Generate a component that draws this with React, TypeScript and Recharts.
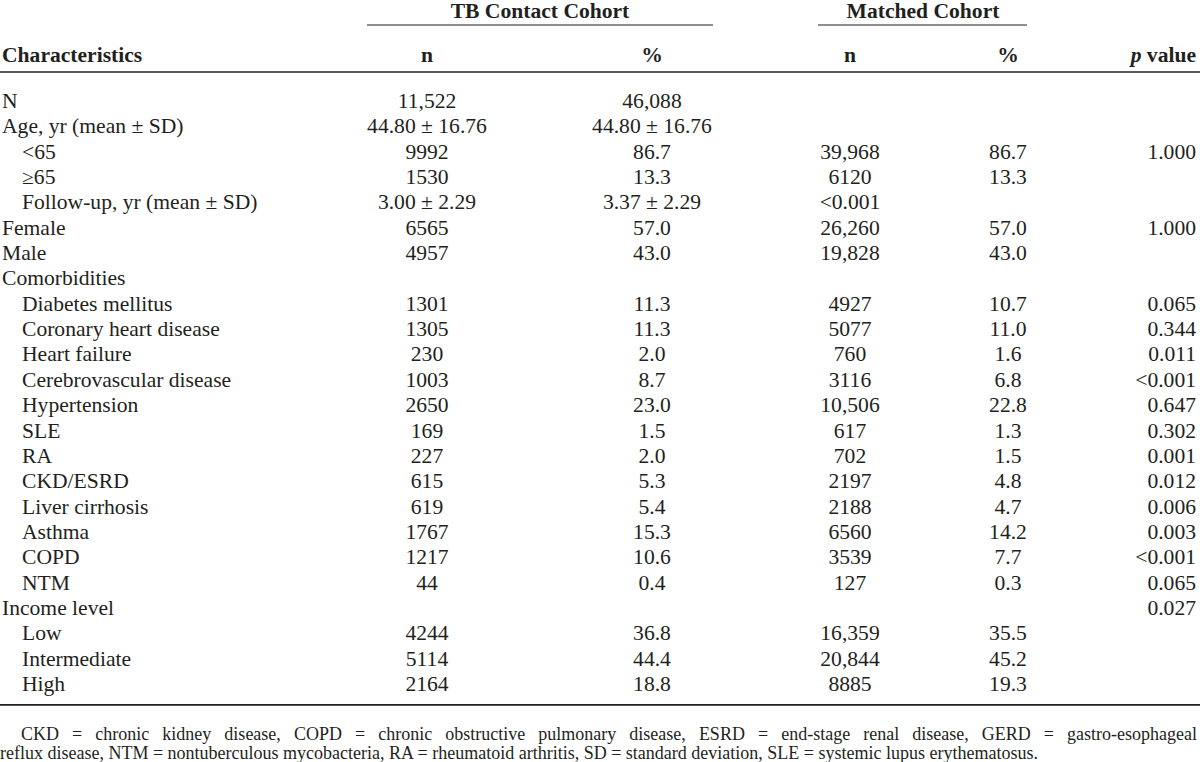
import { ScatterChart, Scatter, XAxis, YAxis, ReferenceLine } from 'recharts';

// table content, one entry per body row
const labels = [
  'N',
  'Age, yr (mean ± SD)',
  '<65',
  '≥65',
  'Follow-up, yr (mean ± SD)',
  'Female',
  'Male',
  'Comorbidities',
  'Diabetes mellitus',
  'Coronary heart disease',
  'Heart failure',
  'Cerebrovascular disease',
  'Hypertension',
  'SLE',
  'RA',
  'CKD/ESRD',
  'Liver cirrhosis',
  'Asthma',
  'COPD',
  'NTM',
  'Income level',
  'Low',
  'Intermediate',
  'High',
];

const indented = [
  false, false, true, true, true, false, false, false,
  true, true, true, true, true, true, true, true, true, true, true, true,
  false, true, true, true,
];

const tbN = [
  '11,522', '44.80 ± 16.76', '9992', '1530', '3.00 ± 2.29', '6565', '4957', '',
  '1301', '1305', '230', '1003', '2650', '169', '227', '615', '619', '1767', '1217', '44',
  '', '4244', '5114', '2164',
];

const tbPct = [
  '46,088', '44.80 ± 16.76', '86.7', '13.3', '3.37 ± 2.29', '57.0', '43.0', '',
  '11.3', '11.3', '2.0', '8.7', '23.0', '1.5', '2.0', '5.3', '5.4', '15.3', '10.6', '0.4',
  '', '36.8', '44.4', '18.8',
];

const matchedN = [
  '', '', '39,968', '6120', '<0.001', '26,260', '19,828', '',
  '4927', '5077', '760', '3116', '10,506', '617', '702', '2197', '2188', '6560', '3539', '127',
  '', '16,359', '20,844', '8885',
];

const matchedPct = [
  '', '', '86.7', '13.3', '', '57.0', '43.0', '',
  '10.7', '11.0', '1.6', '6.8', '22.8', '1.3', '1.5', '4.8', '4.7', '14.2', '7.7', '0.3',
  '', '35.5', '45.2', '19.3',
];

const pValues = [
  '', '', '1.000', '', '', '1.000', '', '',
  '0.065', '0.344', '0.011', '<0.001', '0.647', '0.302', '0.001', '0.012', '0.006', '0.003', '<0.001', '0.065',
  '0.027', '', '', '',
];

const groupHeaders = ['TB Contact Cohort', 'Matched Cohort'];
const columnHeaders = ['Characteristics', 'n', '%', 'n', '%', 'p value'];

const footnotes = [
  'CKD = chronic kidney disease, COPD = chronic obstructive pulmonary disease, ESRD = end-stage renal disease, GERD = gastro-esophageal',
  'reflux disease, NTM = nontuberculous mycobacteria, RA = rheumatoid arthritis, SD = standard deviation, SLE = systemic lupus erythematosus.',
];

// layout
const W = 1200;
const H = 762;
const FONT = "'Liberation Serif', 'Times New Roman', serif";
const FS = 20;
const FOOT_FS = 18;
const SX = 1.08;
const LABEL_X = 2;
const INDENT_X = 22;
const COL_X = [427, 652, 850, 1008];
const P_RIGHT = 1196;
const GROUP_X = [540, 923];
const GROUP_SPAN = [
  [367, 713],
  [818, 1027],
];
// y axis in row units: row 0 baseline at 108px, 25.35px per row
const ROW_MIN = -4.261;
const ROW_MAX = 25.801;
const GROUP_ROW = -3.57;
const GROUP_RULE_ROW = -3.274;
const HEADER_ROW = -1.815;
const HEADER_RULE_ROW = -1.42;
const BOTTOM_RULE_ROW = 23.55;
const FOOT_ROWS = [24.93, 25.68];

type Cell = {
  x: number;
  row: number;
  text: string;
  anchor: 'start' | 'middle' | 'end';
  bold?: boolean;
  italicP?: boolean;
  justify?: number;
  foot?: boolean;
};

const bodyCells: Cell[] = [];
labels.forEach((t, i) => {
  bodyCells.push({ x: indented[i] ? INDENT_X : LABEL_X, row: i, text: t, anchor: 'start' });
});
[tbN, tbPct, matchedN, matchedPct].forEach((col, k) => {
  col.forEach((t, i) => {
    if (t) bodyCells.push({ x: COL_X[k], row: i, text: t, anchor: 'middle' });
  });
});
pValues.forEach((t, i) => {
  if (t) bodyCells.push({ x: P_RIGHT, row: i, text: t, anchor: 'end' });
});

const headerCells: Cell[] = [
  { x: GROUP_X[0], row: GROUP_ROW, text: groupHeaders[0], anchor: 'middle', bold: true },
  { x: GROUP_X[1], row: GROUP_ROW, text: groupHeaders[1], anchor: 'middle', bold: true },
  { x: LABEL_X, row: HEADER_ROW, text: columnHeaders[0], anchor: 'start', bold: true },
  { x: COL_X[0], row: HEADER_ROW, text: columnHeaders[1], anchor: 'middle', bold: true },
  { x: COL_X[1], row: HEADER_ROW, text: columnHeaders[2], anchor: 'middle', bold: true },
  { x: COL_X[2], row: HEADER_ROW, text: columnHeaders[3], anchor: 'middle', bold: true },
  { x: COL_X[3], row: HEADER_ROW, text: columnHeaders[4], anchor: 'middle', bold: true },
  { x: P_RIGHT, row: HEADER_ROW, text: columnHeaders[5], anchor: 'end', bold: true, italicP: true },
];

const footCells: Cell[] = [
  { x: 21, row: FOOT_ROWS[0], text: footnotes[0], anchor: 'start', justify: 1176, foot: true },
  { x: 0, row: FOOT_ROWS[1], text: footnotes[1], anchor: 'start', foot: true },
];

let ctx: CanvasRenderingContext2D | null = null;
function textWidth(s: string, size: number) {
  if (!ctx) ctx = document.createElement('canvas').getContext('2d');
  if (!ctx) return 0;
  ctx.font = `${size}px 'Liberation Serif'`;
  return ctx.measureText(s).width;
}

function renderCell(props: any) {
  const { cx, cy, payload } = props;
  const c = payload as Cell;
  if (cx == null || cy == null) return <g />;
  if (c.foot) {
    // justify by widening the word gaps, like the typeset original
    let ws = 0;
    if (c.justify) {
      const gaps = c.text.split(' ').length - 1;
      ws = Math.max(0, (c.justify - textWidth(c.text, FOOT_FS)) / gaps);
    }
    return (
      <text x={cx} y={cy} fontFamily={FONT} fontSize={FOOT_FS} fill="#231f20" wordSpacing={ws}>
        {c.text}
      </text>
    );
  }
  return (
    <text
      transform={`translate(${cx},${cy}) scale(${SX},1)`}
      textAnchor={c.anchor}
      fontFamily={FONT}
      fontSize={FS}
      fontWeight={c.bold ? 'bold' : 'normal'}
      fill="#231f20"
    >
      {c.italicP ? (
        <>
          <tspan fontStyle="italic">p</tspan>
          {' value'}
        </>
      ) : (
        c.text
      )}
    </text>
  );
}

export default function App() {
  return (
    <div style={{ width: W, height: H, background: '#fff' }}>
      <style>{'body{margin:0}'}</style>
      <ScatterChart width={W} height={H} margin={{ top: 0, right: 0, bottom: 0, left: 0 }}>
        <XAxis type="number" dataKey="x" domain={[0, W]} hide />
        <YAxis type="number" dataKey="row" domain={[ROW_MIN, ROW_MAX]} reversed hide />
        {GROUP_SPAN.map(([a, b], i) => (
          <ReferenceLine
            key={`g${i}`}
            segment={[
              { x: a, y: GROUP_RULE_ROW },
              { x: b, y: GROUP_RULE_ROW },
            ]}
            stroke="#231f20"
            strokeWidth={1.2}
          />
        ))}
        <ReferenceLine y={HEADER_RULE_ROW} stroke="#231f20" strokeWidth={1.6} />
        <ReferenceLine y={BOTTOM_RULE_ROW} stroke="#231f20" strokeWidth={1.8} />
        <Scatter data={headerCells} shape={renderCell} isAnimationActive={false} />
        <Scatter data={bodyCells} shape={renderCell} isAnimationActive={false} />
        <Scatter data={footCells} shape={renderCell} isAnimationActive={false} />
      </ScatterChart>
    </div>
  );
}
